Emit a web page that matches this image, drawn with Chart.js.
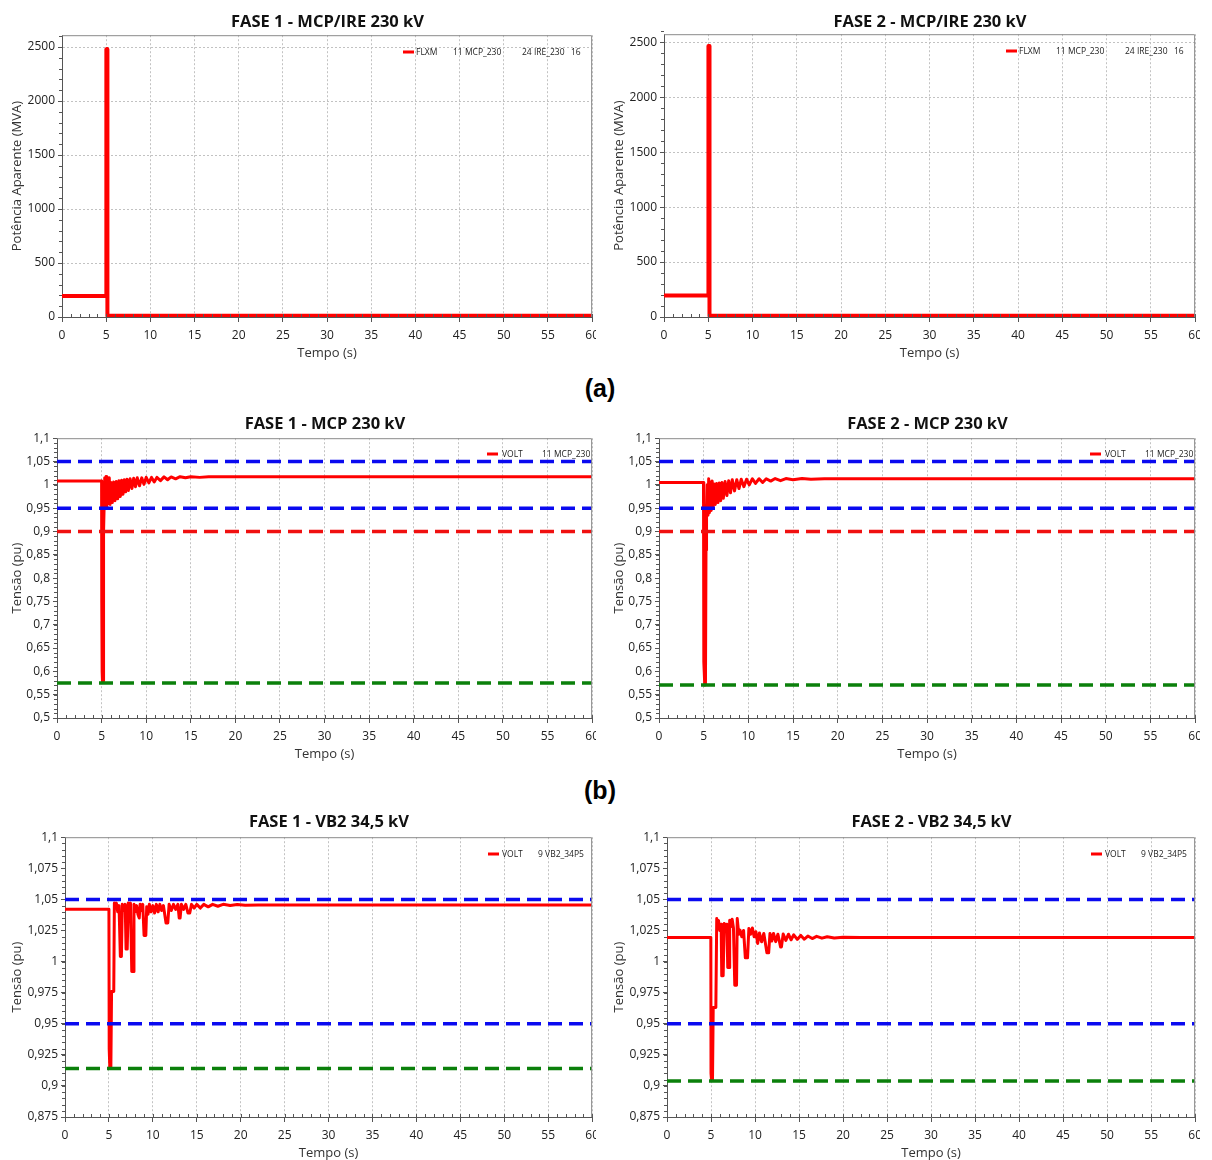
<!DOCTYPE html>
<html><head><meta charset="utf-8">
<script src="https://cdn.jsdelivr.net/npm/chart.js@4.4.0/dist/chart.umd.min.js"></script>
<style>
body{margin:0;background:#fff;width:1212px;height:1160px;position:relative;overflow:hidden;font-family:"Open Sans",sans-serif;}
.wrap{position:absolute;overflow:hidden;}
.wrap canvas{position:absolute;left:0;top:0;}
.title{position:absolute;font:bold 16.5px "Open Sans",sans-serif;color:#111;transform:translate(-50%,-50%);white-space:nowrap;}
.lbl{position:absolute;font:bold 25px "Liberation Sans",Arial,sans-serif;color:#000;transform:translate(-50%,-50%);}
.leg{position:absolute;font:8.5px "Open Sans",sans-serif;color:#222;white-space:nowrap;transform:translateY(-50%);line-height:10px;}
.mk{position:absolute;height:3px;background:#f00;transform:translateY(-50%);}
</style></head><body>
<div class="lbl" style="left:600px;top:388px">(a)</div>
<div class="lbl" style="left:600px;top:790px">(b)</div>
<script>
// ---------- axis ticks ----------
const X_TICKS = [0,5,10,15,20,25,30,35,40,45,50,55,60];
const A_Y_TICKS = [0,500,1000,1500,2000,2500];
const B_Y_TICKS = [0.5,0.55,0.6,0.65,0.7,0.75,0.8,0.85,0.9,0.95,1,1.05,1.1];
const C_Y_TICKS = [0.875,0.9,0.925,0.95,0.975,1,1.025,1.05,1.075,1.1];

// ---------- titles / legends ----------
const TITLES = ['FASE 1 - MCP/IRE 230 kV','FASE 2 - MCP/IRE 230 kV','FASE 1 - MCP 230 kV','FASE 2 - MCP 230 kV','FASE 1 - VB2 34,5 kV','FASE 2 - VB2 34,5 kV'];
const LEGEND_A = ['FLXM','11 MCP_230','24 IRE_230','16'];
const LEGEND_B = ['VOLT','11 MCP_230'];
const LEGEND_C = ['VOLT','9 VB2_34P5'];

// ---------- series: [time (s), value] ----------
const a1Flow = [[0,195],[5.0,195],[5.02,2480],[5.1,2480],[5.14,12],[60,12]];
const a2Flow = [[0,195],[5.0,195],[5.02,2465],[5.1,2465],[5.14,12],[60,12]];

const b1Volt = [[0,1.008],[5.0,1.008],[5.02,0.75],[5.06,0.60],[5.1,0.578],[5.18,0.58],[5.22,0.90],[5.28,0.95],[5.35,1.015],[5.42,0.955],[5.5,1.018],[5.58,0.95],[5.66,1.012],[5.76,0.96],[5.86,1.015],[5.96,0.958],[6.06,1.005],[6.2,0.962],[6.35,1.006],[6.5,0.966],[6.65,1.007],[6.8,0.97],[6.95,1.009],[7.1,0.975],[7.25,1.01],[7.4,0.98],[7.55,1.011],[7.7,0.985],[7.85,1.012],[8.0,0.988],[8.2,1.013],[8.4,0.992],[8.6,1.014],[8.8,0.996],[9.0,1.015],[9.25,0.998],[9.5,1.015],[9.75,1.001],[10.0,1.016],[10.3,1.004],[10.6,1.016],[10.9,1.006],[11.2,1.016],[11.6,1.009],[12.0,1.017],[12.4,1.011],[12.8,1.017],[13.3,1.013],[13.8,1.0175],[14.4,1.015],[15.0,1.0175],[16,1.016],[17,1.0175],[20,1.0175],[60,1.0175]];
const b2Volt = [[0,1.005],[4.98,1.005],[5.0,0.9],[5.03,0.62],[5.06,0.60],[5.12,0.571],[5.2,0.572],[5.26,0.86],[5.32,0.93],[5.4,1.0],[5.48,0.935],[5.56,1.013],[5.64,0.94],[5.74,1.006],[5.84,0.945],[5.95,1.008],[6.05,0.952],[6.18,1.002],[6.3,0.958],[6.45,1.003],[6.6,0.962],[6.75,1.004],[6.9,0.966],[7.05,1.005],[7.2,0.971],[7.4,1.007],[7.6,0.977],[7.8,1.009],[8.0,0.983],[8.2,1.011],[8.45,0.987],[8.7,1.011],[8.95,0.992],[9.2,1.012],[9.5,0.996],[9.8,1.012],[10.1,1.0],[10.45,1.013],[10.8,1.003],[11.2,1.013],[11.6,1.005],[12.0,1.013],[12.5,1.008],[13.0,1.0135],[13.6,1.009],[14.2,1.0135],[15.0,1.011],[16.0,1.0135],[17.0,1.012],[18.5,1.013],[60,1.013]];

const c1Volt = [[0,1.042],[5.0,1.042],[5.03,0.93],[5.1,0.915],[5.22,0.915],[5.3,0.976],[5.55,0.976],[5.62,1.047],[5.75,1.044],[5.85,1.047],[6.0,1.040],[6.15,1.045],[6.3,1.004],[6.42,1.004],[6.52,1.046],[6.7,1.041],[6.85,1.046],[6.95,1.010],[7.08,1.010],[7.2,1.047],[7.35,1.044],[7.45,1.047],[7.6,0.992],[7.75,0.992],[7.85,1.046],[8.0,1.040],[8.15,1.045],[8.3,1.038],[8.45,1.035],[8.55,1.046],[8.7,1.041],[8.85,1.046],[9.0,1.021],[9.2,1.021],[9.3,1.044],[9.45,1.038],[9.6,1.046],[9.8,1.04],[10.0,1.045],[10.2,1.039],[10.4,1.046],[10.6,1.04],[10.8,1.046],[11.0,1.041],[11.2,1.045],[11.5,1.031],[11.7,1.031],[11.85,1.046],[12.1,1.041],[12.35,1.046],[12.6,1.042],[12.85,1.046],[13.0,1.035],[13.1,1.035],[13.25,1.046],[13.5,1.042],[13.75,1.046],[14.0,1.039],[14.2,1.039],[14.4,1.046],[14.7,1.043],[15.0,1.046],[15.4,1.043],[15.8,1.046],[16.3,1.044],[16.8,1.046],[17.4,1.0445],[18,1.046],[18.8,1.045],[19.6,1.0458],[20.5,1.0452],[22,1.0455],[60,1.0455]];
const c2Volt = [[0,1.0194],[4.98,1.0194],[5.0,0.91],[5.05,0.9053],[5.17,0.9053],[5.25,0.963],[5.55,0.963],[5.65,1.0346],[5.75,1.026],[5.85,1.033],[6.0,1.025],[6.15,1.03],[6.22,0.9886],[6.38,0.9886],[6.5,1.0306],[6.65,1.027],[6.8,1.03],[6.9,0.9953],[7.05,0.9953],[7.12,1.0333],[7.25,1.028],[7.4,1.034],[7.55,1.027],[7.7,0.981],[7.9,0.981],[7.98,1.0346],[8.15,1.022],[8.3,1.0253],[8.5,1.0199],[8.7,1.025],[8.9,1.003],[9.15,1.003],[9.3,1.0266],[9.5,1.022],[9.7,1.027],[9.9,1.02],[10.1,1.024],[10.3,1.0146],[10.5,1.023],[10.75,1.0159],[11.0,1.0226],[11.35,1.007],[11.55,1.007],[11.7,1.0226],[11.9,1.0165],[12.1,1.0226],[12.35,1.016],[12.6,1.022],[12.9,1.0118],[13.0,1.0118],[13.2,1.0222],[13.5,1.017],[13.8,1.022],[14.1,1.0175],[14.4,1.0215],[14.8,1.0178],[15.2,1.021],[15.6,1.018],[16.0,1.0205],[16.5,1.0185],[17.0,1.0203],[17.6,1.0188],[18.2,1.0200],[19,1.019],[20,1.0196],[22,1.0194],[60,1.0194]];

// ---------- limit lines (pu) ----------
const b1Blue = [1.05,0.95], b1Red = [0.90], b1Green = [0.575];
const b2Blue = [1.05,0.95], b2Red = [0.90], b2Green = [0.571];
const c1Blue = [1.05,0.95], c1Red = [], c1Green = [0.914];
const c2Blue = [1.05,0.95], c2Red = [], c2Green = [0.904];

// ---------- layout ----------
const panels = [
 {wx:0,  ww:596, L:62, R:593, T:35, B:317, yMin:0, yMax:2610, yTicks:A_Y_TICKS, yMinor:100, hGrid:true, yTitle:'Potência Aparente (MVA)', data:a1Flow, lw:4, blue:[],red:[],green:[], title:TITLES[0], tDy:15, legend:LEGEND_A, legX:[-177,-140,-71,-22], mk:[-190,-179], legDy:17},
 {wx:602,ww:598, L:664,R:1196,T:34, B:317, yMin:0, yMax:2573, yTicks:A_Y_TICKS, yMinor:100, hGrid:true, yTitle:'Potência Aparente (MVA)', data:a2Flow, lw:4, blue:[],red:[],green:[], title:TITLES[1], tDy:14, legend:LEGEND_A, legX:[-177,-140,-71,-22], mk:[-190,-179], legDy:17},
 {wx:0,  ww:596, L:57, R:593, T:438,B:718, yMin:0.5, yMax:1.1, yTicks:B_Y_TICKS, yMinor:0.01, hGrid:false, yTitle:'Tensão (pu)', data:b1Volt, lw:3, blue:b1Blue,red:b1Red,green:b1Green, title:TITLES[2], tDy:16, legend:LEGEND_B, legX:[-91,-51], mk:[-106,-95], legDy:16},
 {wx:602,ww:598, L:659,R:1196,T:438,B:718, yMin:0.5, yMax:1.1, yTicks:B_Y_TICKS, yMinor:0.01, hGrid:false, yTitle:'Tensão (pu)', data:b2Volt, lw:3, blue:b2Blue,red:b2Red,green:b2Green, title:TITLES[3], tDy:16, legend:LEGEND_B, legX:[-91,-51], mk:[-106,-95], legDy:16},
 {wx:0,  ww:596, L:65, R:593, T:837,B:1117, yMin:0.875, yMax:1.1, yTicks:C_Y_TICKS, yMinor:0.005, hGrid:false, yTitle:'Tensão (pu)', data:c1Volt, lw:3, blue:c1Blue,red:c1Red,green:c1Green, title:TITLES[4], tDy:17, legend:LEGEND_C, legX:[-91,-55], mk:[-105,-94], legDy:17},
 {wx:602,ww:598, L:667,R:1196,T:837,B:1117, yMin:0.875, yMax:1.1, yTicks:C_Y_TICKS, yMinor:0.005, hGrid:false, yTitle:'Tensão (pu)', data:c2Volt, lw:3, blue:c2Blue,red:c2Red,green:c2Green, title:TITLES[5], tDy:17, legend:LEGEND_C, legX:[-91,-55], mk:[-105,-94], legDy:17}
];

const PAD_TOP = 10, PAD_RIGHT = 12, X_AXIS_H = 45;

const framePlugin = {
  id:'frame',
  afterDraw(chart, args, opts){
    const {ctx, chartArea:a, scales:{x,y}} = chart;
    ctx.save();
    ctx.strokeStyle = '#555'; ctx.lineWidth = 1;
    ctx.beginPath();
    const nx = Math.round((x.max - x.min)/opts.xMinor);
    for (let i=0;i<=nx;i++){ const px = Math.round(x.getPixelForValue(x.min + i*opts.xMinor)) + 0.5; ctx.moveTo(px, a.bottom); ctx.lineTo(px, a.bottom-3); }
    const ny = Math.round((y.max - y.min)/opts.yMinor);
    for (let i=0;i<=ny;i++){ const py = Math.round(y.getPixelForValue(y.min + i*opts.yMinor)) + 0.5; ctx.moveTo(a.left, py); ctx.lineTo(a.left-3, py); }
    ctx.stroke();
    ctx.strokeStyle = '#8a8a8a';
    ctx.beginPath();
    ctx.moveTo(a.left, a.top+0.5); ctx.lineTo(a.right-0.5, a.top+0.5); ctx.lineTo(a.right-0.5, a.bottom);
    ctx.stroke();
    ctx.restore();
  }
};

function fmt(v){ return String(parseFloat(Number(v).toFixed(3))).replace('.', ','); }
function hline(v, color){ return {data:[{x:0,y:v},{x:60,y:v}], borderColor:color, borderWidth:3.5, borderDash:[14,7], pointRadius:0, fill:false}; }

panels.forEach(p => {
  const cw = p.R - p.wx + PAD_RIGHT;
  const ch = (p.B - p.T) + PAD_TOP + X_AXIS_H;
  const wrap = document.createElement('div');
  wrap.className = 'wrap';
  wrap.style.left = p.wx + 'px'; wrap.style.top = (p.T - PAD_TOP) + 'px';
  wrap.style.width = p.ww + 'px'; wrap.style.height = ch + 'px';
  const cv = document.createElement('canvas');
  cv.width = cw; cv.height = ch; cv.style.width = cw + 'px'; cv.style.height = ch + 'px';
  wrap.appendChild(cv); document.body.appendChild(wrap);

  const t = document.createElement('div');
  t.className = 'title'; t.textContent = p.title;
  t.style.left = ((p.L + p.R)/2) + 'px'; t.style.top = (p.T - p.tDy) + 'px';
  document.body.appendChild(t);

  const ly = p.T + p.legDy;
  const mk = document.createElement('div'); mk.className = 'mk';
  mk.style.left = (p.R + p.mk[0]) + 'px'; mk.style.width = (p.mk[1]-p.mk[0]) + 'px'; mk.style.top = ly + 'px';
  document.body.appendChild(mk);
  p.legend.forEach((s,i) => {
    const d = document.createElement('div'); d.className = 'leg'; d.textContent = s;
    d.style.left = (p.R + p.legX[i]) + 'px'; d.style.top = ly + 'px';
    document.body.appendChild(d);
  });

  const datasets = [];
  p.green.forEach(v => datasets.push(hline(v, '#0b800b')));
  p.blue.forEach(v => datasets.push(hline(v, '#0a0af0')));
  p.red.forEach(v => datasets.push(hline(v, '#f01010')));
  datasets.push({data:p.data.map(d => ({x:d[0], y:d[1]})), borderColor:'#ff0000', borderWidth:p.lw, pointRadius:0, fill:false, borderJoinStyle:'round', borderCapStyle:'butt'});

  const tickFont = {family:'Open Sans', size:12};
  const titleFont = {family:'Open Sans', size:13};
  new Chart(cv, {
    type:'line',
    data:{datasets},
    options:{
      responsive:false, animation:false, devicePixelRatio:1, parsing:true,
      layout:{padding:{top:PAD_TOP, right:PAD_RIGHT, left:0, bottom:0}},
      plugins:{legend:{display:false}, tooltip:{enabled:false}, frame:{xMinor:1, yMinor:p.yMinor}},
      elements:{line:{tension:0}},
      scales:{
        x:{type:'linear', min:0, max:60,
           afterBuildTicks:s => { s.ticks = X_TICKS.map(v => ({value:v})); },
           afterFit:s => { s.height = X_AXIS_H; },
           ticks:{font:tickFont, color:'#222', padding:6, maxRotation:0, autoSkip:false, callback:v => String(v)},
           grid:{color:'#c2c2c2', lineWidth:1, tickLength:5, tickColor:'#555', tickWidth:1},
           border:{color:'#555', width:1, dash:[2,2]},
           title:{display:true, text:'Tempo (s)', font:titleFont, color:'#333', padding:{top:0, bottom:1}}},
        y:{type:'linear', min:p.yMin, max:p.yMax,
           afterBuildTicks:s => { s.ticks = p.yTicks.map(v => ({value:v})); },
           afterFit:s => { s.width = p.L - p.wx; },
           ticks:{font:tickFont, color:'#222', padding:3, autoSkip:false, callback:v => fmt(v)},
           grid:{color:'#c2c2c2', lineWidth:1, drawOnChartArea:p.hGrid, tickLength:4, tickColor:'#555', tickWidth:1},
           border:{color:'#555', width:1, dash:[2,2]},
           title:{display:true, text:p.yTitle, font:titleFont, color:'#333', padding:{top:9, bottom:0}}}
      }
    },
    plugins:[framePlugin]
  });
});
</script>
</body></html>
